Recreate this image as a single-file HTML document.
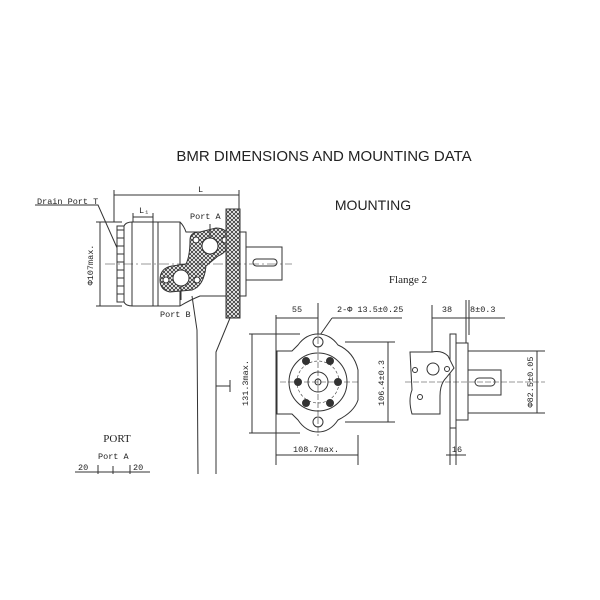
<!DOCTYPE html>
<html><head><meta charset="utf-8"><style>
body{margin:0;background:#fff}
svg{display:block}
text{font-family:"Liberation Mono",monospace;fill:#222}
.s{font-family:"Liberation Sans",sans-serif}
.r{font-family:"Liberation Serif",serif}
</style></head><body>
<svg width="600" height="600" viewBox="0 0 600 600" xmlns="http://www.w3.org/2000/svg">
<defs>
<pattern id="h" width="4" height="4" patternUnits="userSpaceOnUse">
<rect width="4" height="4" fill="#fff"/>
<path d="M0 0L4 4M4 0L0 4" stroke="#333" stroke-width="0.8"/>
</pattern>
</defs>
<text x="324" y="161" class="s" font-size="15" text-anchor="middle">BMR DIMENSIONS AND  MOUNTING DATA</text>
<text x="373" y="210" class="s" font-size="14" text-anchor="middle">MOUNTING</text>
<text x="408" y="283" class="r" font-size="11" text-anchor="middle">Flange 2</text>
<text x="117" y="442" class="r" font-size="11" text-anchor="middle">PORT</text>

<g stroke="#333" fill="none" stroke-width="1">
<line x1="114" y1="195" x2="239" y2="195"/>
<line x1="114" y1="190" x2="114" y2="222"/>
<line x1="239" y1="190" x2="239" y2="209"/>
<line x1="133" y1="217" x2="153" y2="217"/>
<line x1="133" y1="213" x2="133" y2="222"/>
<line x1="153" y1="213" x2="153" y2="222"/>
<line x1="100" y1="222" x2="100" y2="306"/>
<line x1="96" y1="222" x2="122" y2="222"/>
<line x1="96" y1="306" x2="122" y2="306"/>
<polyline points="35,205 98,205 118,250"/>
<rect x="117" y="226" width="7" height="76" fill="#fff"/>
<path d="M117 230 h7 M117 238 h7 M117 246 h7 M117 254 h7 M117 262 h7 M117 270 h7 M117 278 h7 M117 286 h7 M117 294 h7"/>
<path d="M124 226 Q126 222 132 222 H158 V306 H132 Q126 306 124 302 Z" fill="#fff"/>
<line x1="132" y1="222" x2="132" y2="306"/>
<line x1="153" y1="222" x2="153" y2="306"/>
<path d="M158 222 H180 Q184 226 186 232 H226 V296 H200 Q190 300 180 306 H158"/>
<line x1="180" y1="222" x2="180" y2="306"/>
<path d="M190 240 Q190 232 200 232 L216 228 Q228 228 230 240 Q228 252 218 256 L206 266 Q204 286 192 290 L170 292 Q160 290 160 280 Q160 268 172 266 L186 264 Q190 256 190 240 Z" fill="url(#h)"/>
<circle cx="210" cy="246" r="8" fill="#fff"/>
<circle cx="181" cy="278" r="8" fill="#fff"/>
<circle cx="196" cy="240" r="3" fill="#fff"/>
<circle cx="225" cy="240" r="3" fill="#fff"/>
<circle cx="166" cy="280" r="3" fill="#fff"/>
<circle cx="197" cy="280" r="3" fill="#fff"/>
<rect x="226" y="209" width="14" height="109" fill="url(#h)"/>
<rect x="240" y="232" width="6" height="64" fill="#fff"/>
<rect x="246" y="247" width="36" height="33" fill="#fff"/>
<rect x="253" y="259" width="24" height="7" rx="3.5"/>
<line x1="105" y1="264" x2="292" y2="264" stroke-dasharray="10,3,2,3" stroke-width="0.6"/>
<line x1="210" y1="224" x2="210" y2="238"/>
<line x1="181" y1="286" x2="181" y2="300"/>
<polyline points="192,296 197,330 198,474"/>
<polyline points="230,318 216,352 216,474"/>
<line x1="216" y1="386" x2="230" y2="386"/>
<line x1="230" y1="380" x2="230" y2="392"/>
<!-- front view dims -->
<line x1="276" y1="315" x2="276" y2="465"/>
<line x1="276" y1="318" x2="318" y2="318"/>
<line x1="318" y1="303" x2="318" y2="340"/>
<line x1="318" y1="338" x2="332" y2="318"/>
<line x1="332" y1="318" x2="402" y2="318"/>
<line x1="249" y1="334" x2="300" y2="334"/>
<line x1="249" y1="433" x2="300" y2="433"/>
<line x1="252" y1="334" x2="252" y2="433"/>
<line x1="345" y1="342" x2="395" y2="342"/>
<line x1="345" y1="422" x2="395" y2="422"/>
<line x1="388" y1="342" x2="388" y2="422"/>
<line x1="276" y1="455" x2="358" y2="455"/>
<line x1="358" y1="435" x2="358" y2="465"/>
<path d="M277 351 H292 L298 345 Q306 334 318 334 Q330 334 338 345 Q354 352 358 370 V400 Q354 412 338 420 Q330 432 318 432 Q306 432 298 420 L292 414 H277 Z" fill="#fff"/>
<circle cx="318" cy="382" r="29"/>
<circle cx="318" cy="382" r="21" stroke-dasharray="3,2" stroke-width="0.6"/>
<circle cx="318" cy="382" r="10"/>
<circle cx="318" cy="382" r="3"/>
<circle cx="318" cy="342" r="5"/>
<circle cx="318" cy="422" r="5"/>
<g fill="#333"><circle cx="306" cy="361" r="3.5"/><circle cx="330" cy="361" r="3.5"/><circle cx="298" cy="382" r="3.5"/><circle cx="338" cy="382" r="3.5"/><circle cx="306" cy="403" r="3.5"/><circle cx="330" cy="403" r="3.5"/></g>
<line x1="280" y1="382" x2="360" y2="382" stroke-dasharray="6,2" stroke-width="0.6"/>
<line x1="318" y1="330" x2="318" y2="436" stroke-dasharray="6,2" stroke-width="0.6"/>
<!-- side view -->
<line x1="432" y1="305" x2="432" y2="355"/>
<line x1="466" y1="300" x2="466" y2="343"/>
<line x1="469" y1="300" x2="469" y2="335"/>
<line x1="432" y1="318" x2="505" y2="318"/>
<rect x="450" y="334" width="6" height="94"/>
<rect x="456" y="343" width="12" height="77" fill="#fff"/>
<path d="M410 352 H432 Q442 350 448 356 L454 368 L446 378 Q440 384 440 396 V414 H412 Q408 400 412 390 Z" fill="#fff"/>
<circle cx="433" cy="369" r="6"/>
<circle cx="415" cy="370" r="2.5"/>
<circle cx="447" cy="369" r="2.5"/>
<circle cx="420" cy="397" r="2.5"/>
<rect x="468" y="370" width="33" height="25" fill="#fff"/>
<rect x="475" y="378" width="20" height="8" rx="4"/>
<line x1="468" y1="351" x2="545" y2="351"/>
<line x1="468" y1="413" x2="545" y2="413"/>
<line x1="537" y1="351" x2="537" y2="413"/>
<line x1="450" y1="428" x2="450" y2="465"/>
<line x1="456" y1="428" x2="456" y2="465"/>
<line x1="446" y1="455" x2="466" y2="455"/>
<line x1="405" y1="382" x2="545" y2="382" stroke-dasharray="6,2" stroke-width="0.6"/>
<line x1="75" y1="472" x2="150" y2="472"/>
<line x1="98" y1="465" x2="98" y2="474"/>
<line x1="130" y1="465" x2="130" y2="474"/>
<line x1="113" y1="466" x2="113" y2="474"/>
</g>
<g font-size="8.5">
<text x="37" y="204">Drain Port T</text>
<text x="198" y="192">L</text>
<text x="139" y="213">L₁</text>
<text x="190" y="219">Port A</text>
<text x="160" y="317">Port B</text>
<text x="93" y="265" transform="rotate(-90 93 265)" text-anchor="middle">Φ107max.</text>
<text x="297" y="312" text-anchor="middle">55</text>
<text x="337" y="312">2-Φ 13.5±0.25</text>
<text x="248" y="383" transform="rotate(-90 248 383)" text-anchor="middle">131.3max.</text>
<text x="384" y="383" transform="rotate(-90 384 383)" text-anchor="middle">106.4±0.3</text>
<text x="316" y="452" text-anchor="middle">108.7max.</text>
<text x="447" y="312" text-anchor="middle">38</text>
<text x="470" y="312">8±0.3</text>
<text x="533" y="382" transform="rotate(-90 533 382)" text-anchor="middle">Φ82.5±0.05</text>
<text x="457" y="452" text-anchor="middle">16</text>
<text x="98" y="459">Port A</text>
<text x="78" y="470">20</text>
<text x="133" y="470">20</text>
</g>
</svg>
</body></html>
